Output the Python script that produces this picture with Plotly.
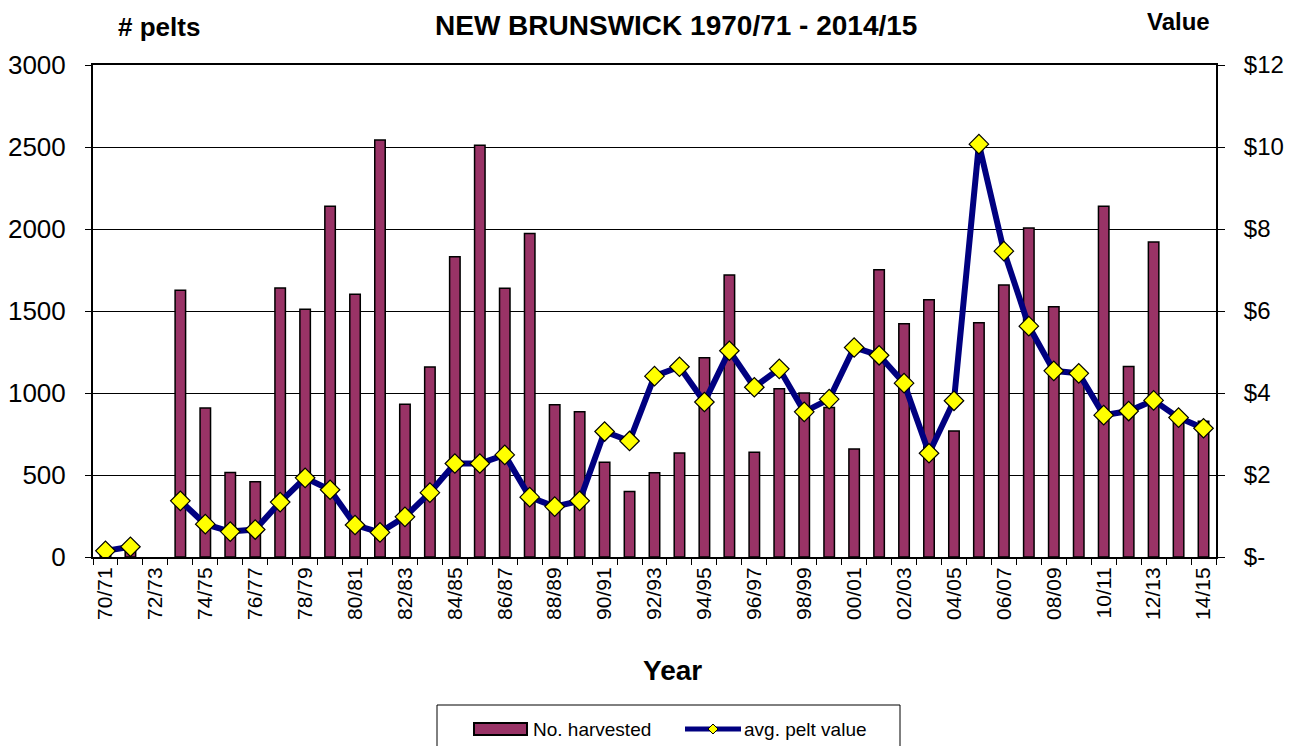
import plotly.graph_objects as go

# Saisons 1970/71 -> 2014/15
saisons = [
    "70/71", "71/72", "72/73", "73/74", "74/75", "75/76", "76/77", "77/78", "78/79", "79/80",
    "80/81", "81/82", "82/83", "83/84", "84/85", "85/86", "86/87", "87/88", "88/89", "89/90",
    "90/91", "91/92", "92/93", "93/94", "94/95", "95/96", "96/97", "97/98", "98/99", "99/00",
    "00/01", "01/02", "02/03", "03/04", "04/05", "05/06", "06/07", "07/08", "08/09", "09/10",
    "10/11", "11/12", "12/13", "13/14", "14/15",
]

# Nombre de peaux récoltées (None = pas de donnée)
nb_recoltees = [
    15, 43, None, 1626, 908, 516, 459, 1640, 1510, 2138,
    1602, 2543, 931, 1159, 1831, 2510, 1638, 1972, 929, 886,
    577, 400, 514, 634, 1215, 1720, 638, 1026, 1000, 911,
    658, 1752, 1423, 1569, 768, 1429, 1659, 2006, 1526, 1125,
    2138, 1162, 1921, 855, 828,
]

# Valeur moyenne d'une peau ($)
valeur_moy = [
    0.15, 0.25, None, 1.37, 0.80, 0.62, 0.67, 1.34, 1.93, 1.64,
    0.78, 0.60, 0.98, 1.57, 2.28, 2.28, 2.49, 1.46, 1.23, 1.37,
    3.06, 2.83, 4.41, 4.64, 3.78, 5.03, 4.14, 4.59, 3.54, 3.85,
    5.11, 4.92, 4.24, 2.53, 3.81, 10.07, 7.46, 5.63, 4.54, 4.48,
    3.46, 3.56, 3.82, 3.40, 3.14,
]

ticks_gauche = [0, 500, 1000, 1500, 2000, 2500, 3000]
ticks_droite = [0, 2, 4, 6, 8, 10, 12]
labels_droite = ["$-", "$2", "$4", "$6", "$8", "$10", "$12"]

POLICE = "Arial, Liberation Sans, sans-serif"
BORDEAUX = "#993366"
MARINE = "#000080"

# La page ajoute ~8 px de marge autour de la figure : on raisonne en pixels "page"
OFF = 8
W, H = 1295, 746
L, R, T, B = 93 - OFF, 1216 - OFF, 65 - OFF, 557 - OFF
pw, ph = R - L, B - T


def px(x):
    return (x - OFF - L) / pw


def py(y):
    return (B - (y - OFF)) / ph


idx = list(range(len(saisons)))

# Série de valeurs coupée là où il manque 72/73
x_ligne = [i for i, v in zip(idx, valeur_moy) if v is not None]
y_ligne = [v for v in valeur_moy if v is not None]
segments = [(x_ligne[:2], y_ligne[:2]), (x_ligne[2:], y_ligne[2:])]

fig = go.Figure()

fig.add_trace(go.Bar(
    x=idx, y=nb_recoltees, name="No. harvested",
    marker=dict(color=BORDEAUX, line=dict(color="black", width=1.5)),
    width=0.42,
))

for sx, sy in segments:
    fig.add_trace(go.Scatter(
        x=sx, y=sy, yaxis="y2", name="avg. pelt value",
        mode="lines+markers",
        line=dict(color=MARINE, width=6),
        marker=dict(symbol="diamond", size=15, color="#FFFF00",
                    line=dict(color="black", width=1.2)),
    ))

# Légende dessinée à la main (style Excel)
ly = 729
shapes = [
    dict(type="rect", xref="paper", yref="paper",
         x0=px(437), x1=px(900), y0=py(770), y1=py(705),
         line=dict(color="black", width=1), fillcolor="white", layer="above"),
    dict(type="rect", xref="paper", yref="paper",
         x0=px(474), x1=px(527), y0=py(ly + 6), y1=py(ly - 6),
         line=dict(color="black", width=2), fillcolor=BORDEAUX, layer="above"),
    dict(type="line", xref="paper", yref="paper",
         x0=px(685), x1=px(741), y0=py(ly), y1=py(ly),
         line=dict(color=MARINE, width=5), layer="above"),
    dict(type="path", xref="paper", yref="paper",
         path="M {} {} L {} {} L {} {} L {} {} Z".format(
             px(713), py(ly - 5), px(718), py(ly), px(713), py(ly + 5), px(708), py(ly)),
         line=dict(color="black", width=1), fillcolor="#FFFF00", layer="above"),
]

annotations = [
    dict(text="<b>NEW BRUNSWICK 1970/71 - 2014/15</b>", x=px(676), y=py(8),
         yanchor="top", font=dict(size=28)),
    dict(text="<b># pelts</b>", x=px(159), y=py(27), font=dict(size=26)),
    dict(text="<b>Value</b>", x=px(1178), y=py(21), font=dict(size=24)),
    dict(text="<b>Year</b>", x=px(672), y=py(670), font=dict(size=28)),
    dict(text="No. harvested", x=px(531), y=py(ly), xanchor="left", font=dict(size=19)),
    dict(text="avg. pelt value", x=px(742), y=py(ly), xanchor="left", font=dict(size=19)),
]
for a in annotations:
    a.update(xref="paper", yref="paper", showarrow=False)
    a.setdefault("xanchor", "center")
    a.setdefault("yanchor", "middle")

fig.update_layout(
    width=W, height=H,
    margin=dict(l=L, r=W - R, t=T, b=H - B),
    paper_bgcolor="white", plot_bgcolor="white",
    font=dict(family=POLICE, color="black"),
    showlegend=False,
    xaxis=dict(
        range=[-0.5, len(saisons) - 0.5], automargin=False,
        tickmode="array", tickvals=idx[::2], ticktext=saisons[::2],
        tickangle=-90, tickfont=dict(size=21),
        ticks="", showgrid=False, zeroline=False,
        showline=True, linecolor="black", linewidth=2, mirror=True,
        minor=dict(tickmode="linear", tick0=-0.5, dtick=1, ticks="outside",
                   ticklen=6, tickcolor="black", showgrid=False),
    ),
    yaxis=dict(
        range=[0, 3000], tickvals=ticks_gauche, tickfont=dict(size=26),
        automargin=False, ticklabelstandoff=14,
        showgrid=True, gridcolor="black", gridwidth=1, zeroline=False,
        ticks="outside", ticklen=6, tickcolor="black",
        showline=True, linecolor="black", linewidth=2,
    ),
    yaxis2=dict(
        range=[0, 12], overlaying="y", side="right", automargin=False,
        tickvals=ticks_droite, ticktext=labels_droite, tickfont=dict(size=24),
        ticklabelstandoff=14,
        showgrid=False, zeroline=False,
        ticks="outside", ticklen=7, tickcolor="black",
        showline=True, linecolor="black", linewidth=2,
    ),
    shapes=shapes,
    annotations=annotations,
)

fig.write_html("out.html")
